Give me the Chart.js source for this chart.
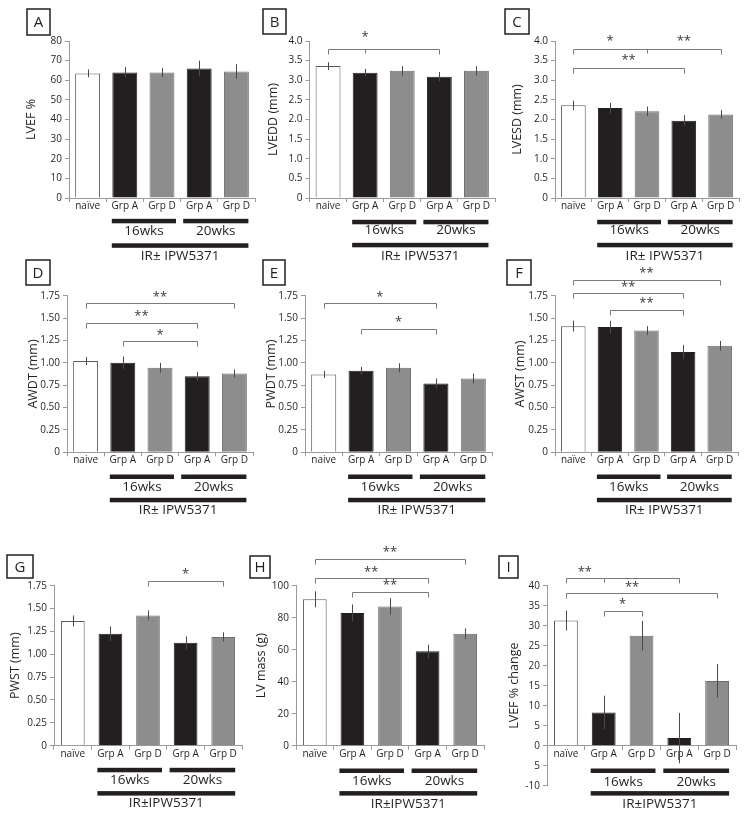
<!DOCTYPE html>
<html>
<head>
<meta charset="utf-8">
<script src="https://cdn.jsdelivr.net/npm/chart.js@4.4.1/dist/chart.umd.min.js"></script>
<style>
body { margin: 0; background: #fff; }
#wrap { position: relative; width: 747px; height: 819px; overflow: hidden; }
#wrap canvas { position: absolute; left: 0; top: 0; }
</style>
</head>
<body>
<div id="wrap"></div>
<script>
// categorias y textos
var cats = ['naïve', 'Grp A', 'Grp D', 'Grp A', 'Grp D'];
var catsB = ['naive', 'Grp A', 'Grp D', 'Grp A', 'Grp D'];
var semanas = ['16wks', '20wks'];
var tratamiento = 'IR± IPW5371';

// valores (media) y error de cada panel
var lvef = [63.5, 64, 64, 66, 64.5];
var lvefErr = [2, 2.7, 2.3, 4, 3.7];
var lvedd = [3.36, 3.19, 3.24, 3.09, 3.24];
var lveddErr = [0.1, 0.1, 0.12, 0.12, 0.12];
var lvesd = [2.36, 2.29, 2.21, 1.97, 2.13];
var lvesdErr = [0.12, 0.13, 0.12, 0.14, 0.11];
var awdt = [1.02, 1.0, 0.945, 0.85, 0.88];
var awdtErr = [0.045, 0.07, 0.055, 0.05, 0.045];
var pwdt = [0.87, 0.91, 0.945, 0.77, 0.825];
var pwdtErr = [0.04, 0.045, 0.05, 0.055, 0.055];
var awst = [1.41, 1.40, 1.36, 1.12, 1.19];
var awstErr = [0.06, 0.07, 0.05, 0.08, 0.055];
var pwst = [1.365, 1.225, 1.425, 1.125, 1.19];
var pwstErr = [0.06, 0.08, 0.055, 0.07, 0.05];
var lvMasa = [91.5, 83, 87, 59, 70];
var lvMasaErr = [5, 5.3, 5.2, 4.2, 3.3];
var lvefCambio = [31.3, 8.3, 27.5, 1.9, 16.2];
var lvefCambioErr = [2.5, 4.2, 3.7, 6.3, 4.2];

// etiquetas de los ejes y
var ticks80 = ['0', '10', '20', '30', '40', '50', '60', '70', '80'];
var ticks4 = ['0', '0.5', '1.0', '1.5', '2.0', '2.5', '3.0', '3.5', '4.0'];
var ticks175 = ['0', '0.25', '0.50', '0.75', '1.00', '1.25', '1.50', '1.75'];
var ticks100 = ['0', '20', '40', '60', '80', '100'];
var ticks40 = ['-10', '5', '0', '5', '10', '15', '20', '25', '30', '35', '40'];

// corchetes de significancia: [desde, hasta, valor y, tick medio]
// estrellas: [corchete, posicion x, texto]
var corchetesB = [[0, 3, 3.8, 1]];
var estrellasB = [[0, 1, '*']];
var corchetesC = [[0, 4, 3.8, 2], [0, 3, 3.31, null]];
var estrellasC = [[0, 1, '*'], [0, 3, '**'], [1, 1.5, '**']];
var corchetesD = [[0, 4, 1.665, null], [0, 3, 1.45, null], [1, 3, 1.24, null]];
var estrellasD = [[0, 2, '**'], [1, 1.5, '**'], [2, 2, '*']];
var corchetesE = [[0, 3, 1.665, null], [1, 3, 1.378, null]];
var estrellasE = [[0, 1.5, '*'], [1, 2, '*']];
var corchetesF = [[0, 4, 1.925, null], [0, 3, 1.776, null], [1, 3, 1.59, null]];
var estrellasF = [[0, 2, '**'], [1, 1.5, '**'], [2, 2, '**']];
var corchetesG = [[2, 4, 1.8, null]];
var estrellasG = [[0, 3, '*']];
var corchetesH = [[0, 4, 116.7, null], [0, 3, 104.6, null], [1, 3, 96.3, null]];
var estrellasH = [[0, 2, '**'], [1, 1.5, '**'], [2, 2, '**']];
var corchetesI = [[0, 3, 41.85, 1], [0, 4, 38.1, null], [1, 2, 33.7, null]];
var estrellasI = [[0, 0.5, '**'], [1, 1.75, '**'], [2, 1.5, '*']];

var colores = ['#ffffff', '#231f20', '#8d8d8d', '#231f20', '#8d8d8d'];
var bordes = ['#5a5a5a', '#231f20', '#6f6f6f', '#231f20', '#6f6f6f'];
var fuente = '"Open Sans", "DejaVu Sans", sans-serif';
var negro = '#231f20';

function extras(p) {
	return {
		id: 'extras' + p.letra,
		afterDraw: function(chart) {
			var ctx = chart.ctx, xs = chart.scales.x, ys = chart.scales.y;
			var meta = chart.getDatasetMeta(0);
			ctx.save();
			// barras de error
			ctx.strokeStyle = '#4a4a4a';
			ctx.lineWidth = 1;
			p.datos.forEach(function(v, i) {
				var x = Math.round(meta.data[i].x) + 0.5;
				ctx.beginPath();
				ctx.moveTo(x, ys.getPixelForValue(v - p.err[i]));
				ctx.lineTo(x, ys.getPixelForValue(v + p.err[i]));
				ctx.stroke();
			});
			// corchetes
			ctx.strokeStyle = '#7a7a7a';
			(p.corchetes || []).forEach(function(b) {
				var x1 = Math.round(xs.getPixelForValue(b[0])) + 0.5;
				var x2 = Math.round(xs.getPixelForValue(b[1])) + 0.5;
				var y = Math.round(ys.getPixelForValue(b[2])) + 0.5;
				ctx.beginPath();
				ctx.moveTo(x1, y + 5); ctx.lineTo(x1, y); ctx.lineTo(x2, y); ctx.lineTo(x2, y + 5);
				if (b[3] != null) {
					var xm = Math.round(xs.getPixelForValue(b[3])) + 0.5;
					ctx.moveTo(xm, y); ctx.lineTo(xm, y + 4);
				}
				ctx.stroke();
			});
			ctx.fillStyle = '#3a3a3a';
			ctx.font = '13px ' + fuente;
			ctx.textAlign = 'center';
			ctx.textBaseline = 'middle';
			(p.estrellas || []).forEach(function(s) {
				var y = ys.getPixelForValue(p.corchetes[s[0]][2]);
				ctx.fillText(s[2], xs.getPixelForValue(s[1]), y - (p.subir || 6.5));
			});
			// barras de grupo bajo el eje
			var base = p.posX ? ys.getPixelForValue(0) : chart.chartArea.bottom;
			var c1 = xs.getPixelForValue(1), c2 = xs.getPixelForValue(2);
			var c3 = xs.getPixelForValue(3), c4 = xs.getPixelForValue(4);
			var g = p.grupo;
			ctx.fillStyle = negro;
			ctx.fillRect(c1 - 13, base + g[0] - 2.2, (c2 + 14) - (c1 - 13), 4.5);
			ctx.fillRect(c3 - 16, base + g[0] - 2.2, (c4 + 12) - (c3 - 16), 4.5);
			ctx.fillRect(c1 - 13, base + g[2] - 2.2, (c4 + 12) - (c1 - 13), 4.5);
			ctx.font = '13.5px ' + fuente;
			ctx.fillText(semanas[0], (c1 - 13 + c2 + 14) / 2, base + g[1]);
			ctx.fillText(semanas[1], (c3 - 16 + c4 + 12) / 2, base + g[1]);
			ctx.fillText(p.trat || tratamiento, (c1 - 13 + c4 + 12) / 2, base + g[3]);
			// letra del panel
			var r = p.caja;
			ctx.strokeStyle = negro;
			ctx.lineWidth = 1.5;
			ctx.strokeRect(r[0], r[1], r[2], r[3]);
			ctx.font = '15px ' + fuente;
			ctx.fillText(p.letra, r[0] + r[2] / 2, r[1] + r[3] / 2 + 1);
			ctx.restore();
		}
	};
}

function crearPanel(p) {
	var c = document.createElement('canvas');
	c.width = 747;
	c.height = 819;
	document.getElementById('wrap').appendChild(c);
	var anchoY = p.gap + 7.5;
	var altoX = 20;
	new Chart(c.getContext('2d'), {
		type: 'bar',
		data: {
			labels: p.cats || cats,
			datasets: [{
				data: p.datos,
				backgroundColor: colores,
				borderColor: bordes,
				borderWidth: 1,
				barPercentage: p.bp,
				categoryPercentage: 1
			}]
		},
		options: {
			responsive: false,
			animation: false,
			events: [],
			layout: {
				padding: {
					left: p.izq - anchoY,
					right: 747 - p.der,
					top: p.arriba,
					bottom: p.posX ? 819 - p.abajo : 819 - p.abajo - altoX
				}
			},
			plugins: { legend: { display: false }, tooltip: { enabled: false } },
			scales: {
				x: {
					position: p.posX || 'bottom',
					offset: true,
					grid: { offset: true, drawOnChartArea: false, tickLength: 4, color: '#9a9a9a' },
					border: { color: '#9a9a9a' },
					ticks: { font: { family: fuente, size: 10 }, color: negro, padding: -2, maxRotation: 0, autoSkip: false },
					afterFit: function(s) { s.height = altoX; }
				},
				y: {
					min: p.min,
					max: p.max,
					ticks: {
						stepSize: p.paso,
						font: { family: fuente, size: 10 },
						color: negro,
						padding: 3,
						callback: function(v, i) { return p.ticks[i]; }
					},
					grid: { drawOnChartArea: false, tickLength: 4, color: '#9a9a9a' },
					border: { color: '#9a9a9a' },
					title: { display: true, text: p.titulo, font: { family: fuente, size: 12.5 }, color: negro, padding: 0 },
					afterFit: function(s) { s.width = anchoY; }
				}
			}
		},
		plugins: [extras(p)]
	});
}

crearPanel({ letra: 'A', titulo: 'LVEF %', datos: lvef, err: lvefErr, min: 0, max: 80, paso: 10, ticks: ticks80,
	izq: 69, der: 255, arriba: 41, abajo: 198, gap: 38, bp: 0.67, grupo: [23, 33, 47.5, 58], caja: [27, 9, 23, 26] });
crearPanel({ letra: 'B', titulo: 'LVEDD (mm)', cats: catsB, datos: lvedd, err: lveddErr, min: 0, max: 4, paso: 0.5, ticks: ticks4,
	corchetes: corchetesB, estrellas: estrellasB, subir: 12,
	izq: 309.5, der: 495, arriba: 41, abajo: 198, gap: 36, bp: 0.67, grupo: [24, 32.5, 47, 58], caja: [263, 9, 23, 25] });
crearPanel({ letra: 'C', titulo: 'LVESD (mm)', datos: lvesd, err: lvesdErr, min: 0, max: 4, paso: 0.5, ticks: ticks4,
	corchetes: corchetesC, estrellas: estrellasC, subir: 7.5,
	izq: 555, der: 739, arriba: 41, abajo: 198, gap: 38, bp: 0.67, grupo: [24, 32.5, 47, 58], caja: [505, 9, 24, 25] });
crearPanel({ letra: 'D', titulo: 'AWDT (mm)', cats: catsB, datos: awdt, err: awdtErr, min: 0, max: 1.75, paso: 0.25, ticks: ticks175,
	corchetes: corchetesD, estrellas: estrellasD,
	izq: 67, der: 253, arriba: 295.7, abajo: 452.3, gap: 34, bp: 0.67, grupo: [24.4, 34.4, 47.7, 57.7], caja: [26, 260, 24, 25] });
crearPanel({ letra: 'E', titulo: 'PWDT (mm)', cats: catsB, datos: pwdt, err: pwdtErr, min: 0, max: 1.75, paso: 0.25, ticks: ticks175,
	corchetes: corchetesE, estrellas: estrellasE,
	izq: 305, der: 492, arriba: 295.7, abajo: 452.3, gap: 34, bp: 0.67, grupo: [24.4, 34.4, 47.7, 57.7], caja: [263, 260, 22, 25] });
crearPanel({ letra: 'F', titulo: 'AWST (mm)', datos: awst, err: awstErr, min: 0, max: 1.75, paso: 0.25, ticks: ticks175,
	corchetes: corchetesF, estrellas: estrellasF,
	izq: 555, der: 738, arriba: 295.7, abajo: 452.3, gap: 35, bp: 0.67, grupo: [24.4, 34.4, 47.7, 57.7], caja: [507, 260, 24, 25] });
crearPanel({ letra: 'G', titulo: 'PWST (mm)', datos: pwst, err: pwstErr, min: 0, max: 1.75, paso: 0.25, ticks: ticks175,
	corchetes: corchetesG, estrellas: estrellasG, trat: 'IR±IPW5371',
	izq: 54, der: 242, arriba: 585.7, abajo: 745.7, gap: 39, bp: 0.63, grupo: [24.3, 34.3, 47.6, 57.6], caja: [7, 555, 26, 23] });
crearPanel({ letra: 'H', titulo: 'LV mass (g)', datos: lvMasa, err: lvMasaErr, min: 0, max: 100, paso: 20, ticks: ticks100,
	corchetes: corchetesH, estrellas: estrellasH, trat: 'IR±IPW5371',
	izq: 296, der: 484, arriba: 585.7, abajo: 745.7, gap: 35, bp: 0.63, grupo: [25, 35, 47.6, 58.6], caja: [250, 556, 20, 22] });
crearPanel({ letra: 'I', titulo: 'LVEF % change', datos: lvefCambio, err: lvefCambioErr, min: -10, max: 40, paso: 5, ticks: ticks40,
	corchetes: corchetesI, estrellas: estrellasI, trat: 'IR±IPW5371', posX: { y: 0 },
	izq: 547, der: 736, arriba: 585.7, abajo: 785.7, gap: 33, bp: 0.63, grupo: [25, 36, 47.6, 58.6], caja: [499, 556, 19, 22] });
</script>
</body>
</html>
